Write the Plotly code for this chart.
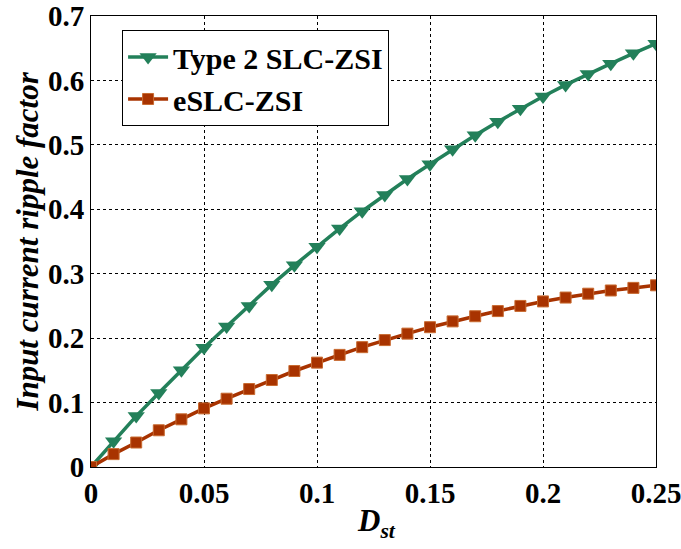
import plotly.graph_objects as go

dst = [0, 0.01, 0.02, 0.03, 0.04, 0.05, 0.06, 0.07, 0.08, 0.09, 0.10, 0.11, 0.12,
       0.13, 0.14, 0.15, 0.16, 0.17, 0.18, 0.19, 0.20, 0.21, 0.22, 0.23, 0.24, 0.25]
type2 = [0, 0.040, 0.079, 0.115, 0.150, 0.185, 0.218, 0.250, 0.283, 0.313, 0.342,
         0.370, 0.397, 0.422, 0.447, 0.470, 0.493, 0.515, 0.536, 0.556, 0.575,
         0.593, 0.610, 0.626, 0.642, 0.657]
eslc = [0, 0.020, 0.038, 0.057, 0.074, 0.091, 0.106, 0.121, 0.135, 0.149, 0.162,
        0.174, 0.186, 0.197, 0.207, 0.217, 0.226, 0.234, 0.242, 0.250, 0.257,
        0.263, 0.269, 0.274, 0.278, 0.282]
xticks = [0, 0.05, 0.1, 0.15, 0.2, 0.25]
xticklabels = ["0", "0.05", "0.1", "0.15", "0.2", "0.25"]
yticks = [0, 0.1, 0.2, 0.3, 0.4, 0.5, 0.6, 0.7]
yticklabels = ["0", "0.1", "0.2", "0.3", "0.4", "0.5", "0.6", "0.7"]

GREEN = "#23805a"
RED = "#a83300"
FONT = "Liberation Serif"

fig = go.Figure()
fig.add_trace(go.Scatter(x=dst, y=type2, mode="lines+markers", name="Type 2 SLC-ZSI",
                         line=dict(color=GREEN, width=3.5),
                         marker=dict(symbol="triangle-down", size=15, color=GREEN)))
fig.add_trace(go.Scatter(x=dst, y=eslc, mode="lines+markers", name="eSLC-ZSI",
                         line=dict(color=RED, width=3.5),
                         marker=dict(symbol="square", size=11, color=RED,
                                     line=dict(color="#c86a30", width=1))))

axis_common = dict(showline=True, linecolor="black", linewidth=1, mirror=True,
                   showgrid=True, gridcolor="black", gridwidth=1, griddash="dot",
                   zeroline=False, ticks="", automargin=False,
                   ticklabeloverflow="allow",
                   tickfont=dict(family=FONT, size=29, color="black", weight="bold"))

fig.update_xaxes(range=[0, 0.25], tickvals=xticks, ticktext=xticklabels,
                 ticklabelstandoff=0, **axis_common)
fig.update_yaxes(range=[0, 0.7], tickvals=yticks, ticktext=yticklabels,
                 ticklabelstandoff=0, **axis_common)

fig.add_annotation(text="<i><b>D</b></i><sub><i><b>st</b></i></sub>",
                   xref="paper", yref="paper", x=0.505, y=-0.125,
                   xanchor="center", yanchor="middle", showarrow=False,
                   font=dict(family=FONT, size=31, color="black"))
fig.add_annotation(text="<b><i>Input current ripple factor</i></b>",
                   xref="paper", yref="paper", x=-0.112, y=0.499,
                   xanchor="center", yanchor="middle", showarrow=False, textangle=-90,
                   font=dict(family=FONT, size=31, color="black"))

fig.update_layout(
    width=681, height=549,
    margin=dict(l=91, r=25, t=16, b=82),
    paper_bgcolor="white", plot_bgcolor="white",
    showlegend=True,
    legend=dict(x=0.055, y=0.969, xanchor="left", yanchor="top",
                bgcolor="white", bordercolor="black", borderwidth=1,
                font=dict(family=FONT, size=30, color="black", weight="bold"),
                itemwidth=40, tracegroupgap=0),
)

fig.write_html("out.html")
